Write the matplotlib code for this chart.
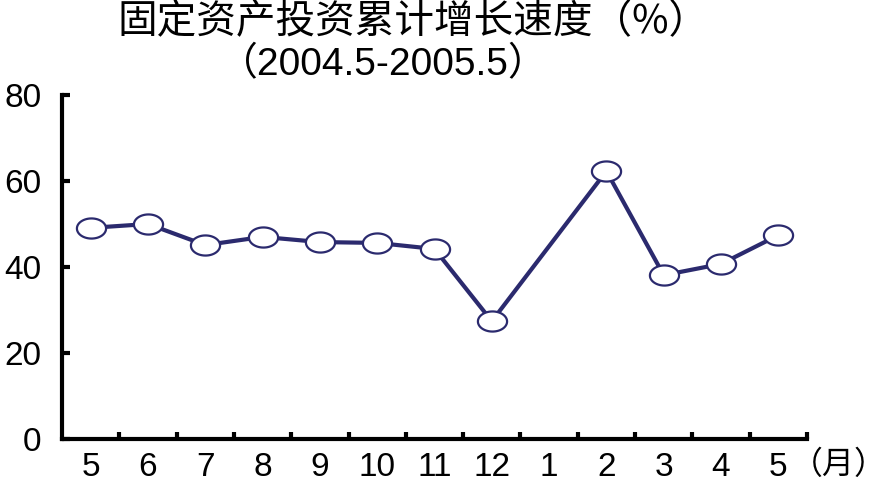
#fixed asset investment cumulative growth, 2004.5-2005.5
import numpy as np
import matplotlib
matplotlib.use('Agg')
import matplotlib.pyplot as plt
from matplotlib.path import Path

plt.rcParams['font.family'] = ['Liberation Sans', 'Noto Sans CJK SC', 'DejaVu Sans']

months = ['5', '6', '7', '8', '9', '10', '11', '12', '1', '2', '3', '4', '5']
# no value reported for January
growth = [49.1, 50.0, 45.1, 47.0, 45.8, 45.6, 44.2, 27.4, np.nan, 62.3, 38.1, 40.7, 47.4]
yticks = [0, 20, 40, 60, 80]

title = '固定资产投资累计增长速度（%）'
subtitle = '（2004.5-2005.5）'
unit = '（月）'

LINE = '#2b2a6e'

# wide ellipse marker
t = np.linspace(0, 2 * np.pi, 60)
ellipse = Path(np.column_stack([1.45 * np.cos(t), np.sin(t)]), closed=True)

fig = plt.figure(figsize=(8.88, 4.87), dpi=100)
ax = fig.add_axes([62 / 888, 1 - 439 / 487, (807 - 62) / 888, (439 - 95) / 487])

x = np.arange(len(months))
y = np.array(growth)
ok = ~np.isnan(y)
ax.plot(x[ok], y[ok], color=LINE, lw=3, marker=ellipse, ms=21,
        mfc='white', mec=LINE, mew=1.6, zorder=3, clip_on=False)

ax.set_xlim(-0.5, len(months) - 0.5)
ax.set_ylim(0, 80)
ax.set_yticks(yticks)
ax.set_yticklabels([str(v) for v in yticks], fontsize=24)
ax.set_xticks(x)
ax.set_xticklabels(months, fontsize=24)
ax.set_xticks(np.arange(len(months)) + 0.5, minor=True)

for s in ['top', 'right']:
    ax.spines[s].set_visible(False)
for s in ['left', 'bottom']:
    ax.spines[s].set_linewidth(3)

ax.tick_params(axis='y', direction='in', length=6, width=3, pad=15)
ax.tick_params(axis='x', which='major', length=0, pad=9)
ax.tick_params(axis='x', which='minor', direction='in', length=5, width=3)

fig.text(0.465, 0.954, title, fontsize=28.5, ha='center', va='center',
         family=['Noto Sans CJK SC', 'DejaVu Sans'])
fig.text(0.432, 0.867, subtitle, fontsize=28, ha='center', va='center',
         family=['Liberation Sans', 'Noto Sans CJK SC'])
fig.text(0.999, 0.045, unit, fontsize=23, ha='right', va='center',
         family=['Noto Sans CJK SC', 'DejaVu Sans'])

fig.savefig('out.png', dpi=100)
